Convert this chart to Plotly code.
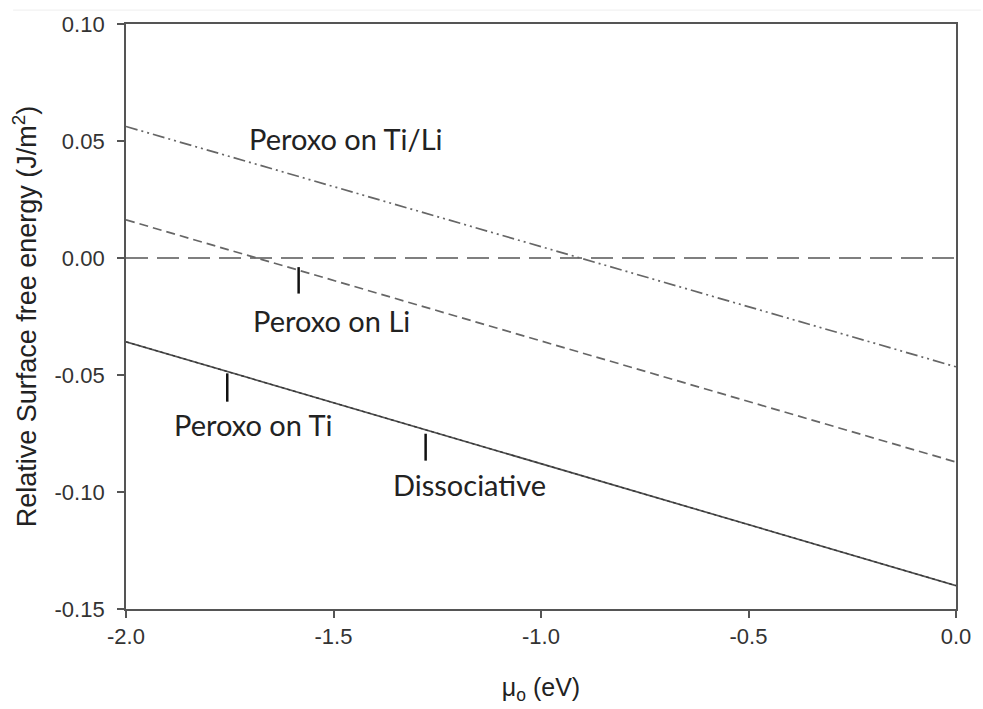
import plotly.graph_objects as go

# Data
mu_o = [-2.0, 0.0]
peroxo_ti_li = [0.0562, -0.0465]
peroxo_li = [0.0163, -0.0872]
dissociative = [-0.0358, -0.1400]
peroxo_ti = [-0.0358, -0.1400]
reference_zero = [0.0, 0.0]

x_tickvals = [-2.0, -1.5, -1.0, -0.5, 0.0]
x_ticktext = ["-2.0", "-1.5", "-1.0", "-0.5", "0.0"]
y_tickvals = [0.10, 0.05, 0.00, -0.05, -0.10, -0.15]
y_ticktext = ["0.10", "0.05", "0.00", "-0.05", "-0.10", "-0.15"]

# Labels: (text, x, y) and pointer ticks (x, y0, y1)
labels = [
    ("Peroxo on Ti/Li", -1.708, 0.0510),
    ("Peroxo on Li", -1.699, -0.0268),
    ("Peroxo on Ti", -1.888, -0.0712),
    ("Dissociative", -1.362, -0.0970),
]
pointers = [
    (-1.584, -0.0039, -0.0152),
    (-1.756, -0.0493, -0.0614),
    (-1.278, -0.0751, -0.0866),
]

fig = go.Figure()
fig.add_trace(go.Scatter(x=mu_o, y=reference_zero, mode="lines",
                         line=dict(color="#555555", width=1.7, dash="22px,9px")))
fig.add_trace(go.Scatter(x=mu_o, y=peroxo_ti_li, mode="lines",
                         line=dict(color="#666666", width=1.7, dash="12px,4px,2px,4px,2px,4px")))
fig.add_trace(go.Scatter(x=mu_o, y=peroxo_li, mode="lines",
                         line=dict(color="#666666", width=1.7, dash="9px,5px")))
fig.add_trace(go.Scatter(x=mu_o, y=peroxo_ti, mode="lines",
                         line=dict(color="#555555", width=1.7)))
fig.add_trace(go.Scatter(x=mu_o, y=dissociative, mode="lines",
                         line=dict(color="#333333", width=1.2, dash="dot")))

for text, x, y in labels:
    fig.add_annotation(x=x, y=y, text=text, showarrow=False, xanchor="left",
                       yanchor="middle", font=dict(family="Lato", size=29, color="#222222"))
for x, y0, y1 in pointers:
    fig.add_shape(type="line", x0=x, x1=x, y0=y0, y1=y1, xref="x", yref="y",
                  line=dict(color="#111111", width=2.5))

# faint frame line at the top of the picture
fig.add_shape(type="line", xref="paper", yref="paper", x0=-0.136, x1=1.03,
              y0=1.0238, y1=1.0238, line=dict(color="#eeeeee", width=1))

font_family = "Liberation Sans, Arial, sans-serif"
axis_common = dict(showgrid=False, zeroline=False, showline=True, linecolor="#555555",
                   linewidth=1.8, mirror=True, ticks="outside", ticklen=7,
                   tickcolor="#555555", tickwidth=1.5,
                   tickfont=dict(family=font_family, size=22, color="#333333"))

fig.update_xaxes(range=[-2.0, 0.0], tickvals=x_tickvals, ticktext=x_ticktext,
                 title_text="μ<sub>o</sub> (eV)", title_standoff=30,
                 title_font=dict(family=font_family, size=25, color="#222222"),
                 ticklabelstandoff=0, **axis_common)
fig.update_yaxes(range=[-0.15, 0.10], tickvals=y_tickvals, ticktext=y_ticktext,
                 title_text="Relative Surface free energy (J/m<sup>2</sup>)", title_standoff=10,
                 title_font=dict(family=font_family, size=27, color="#222222"),
                 ticklabelstandoff=8, **axis_common)

fig.update_layout(width=983, height=709, showlegend=False,
                  margin=dict(l=126, r=20, t=21, b=100),
                  plot_bgcolor="white", paper_bgcolor="white")

fig.write_html("out.html")
